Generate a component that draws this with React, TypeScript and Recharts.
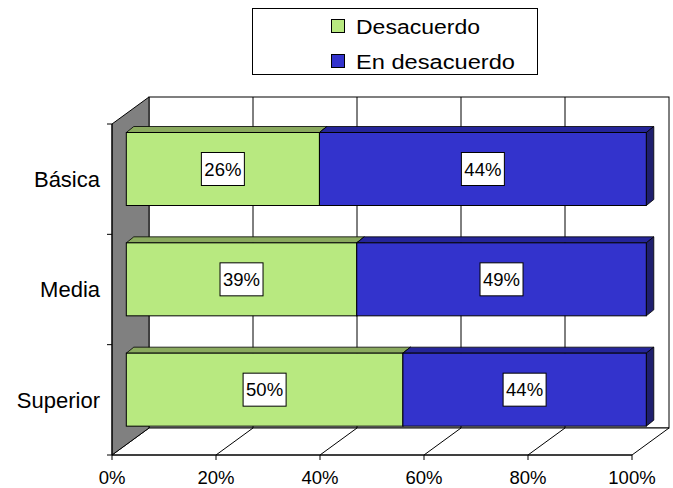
import React from "react";
import { Bar, BarChart, LabelList, ReferenceArea, XAxis, YAxis } from "recharts";

const CATEGORIES = ["Básica", "Media", "Superior"];
const DESACUERDO = [26, 39, 50];
const EN_DESACUERDO = [44, 49, 44];
const X_TICKS = [0, 0.2, 0.4, 0.6, 0.8, 1];

const SERIES = [
  { key: "desacuerdo", name: "Desacuerdo", front: "#B8E980", top: "#8AAA5E", side: "#7E9E54" },
  { key: "enDesacuerdo", name: "En desacuerdo", front: "#3333CC", top: "#25259A", side: "#1F1F6E" },
];

const data = CATEGORIES.map((category, i) => ({
  category,
  desacuerdo: DESACUERDO[i],
  enDesacuerdo: EN_DESACUERDO[i],
}));

// 3d look: full depth of the box, where the bar front face sits, and bar thickness
const DX = 37;
const DY = -27;
const FX = 14.3;
const FY = -10.5;
const BX = 7.5;
const BY = -6;

const font = "'Liberation Sans', Arial, sans-serif";

function Frame(props: any) {
  const { x, y, width, height } = props;
  const bottom = y + height;
  return (
    <g>
      <rect x={x + DX} y={y + DY} width={width} height={height} fill="#fff" stroke="#000" />
      {X_TICKS.slice(1, -1).map((t) => (
        <line key={"b" + t} x1={x + DX + width * t} x2={x + DX + width * t} y1={y + DY} y2={bottom + DY} stroke="#000" />
      ))}
      <polygon
        points={`${x},${bottom} ${x + DX},${bottom + DY} ${x + width + DX},${bottom + DY} ${x + width},${bottom}`}
        fill="#fff"
        stroke="#000"
      />
      {X_TICKS.slice(1, -1).map((t) => (
        <line key={"f" + t} x1={x + width * t} x2={x + width * t + DX} y1={bottom} y2={bottom + DY} stroke="#000" />
      ))}
      <polygon
        points={`${x},${y} ${x + DX},${y + DY} ${x + DX},${bottom + DY} ${x},${bottom}`}
        fill="#808080"
        stroke="#000"
      />
      {CATEGORIES.map((_, i) => (
        <line key={"t" + i} x1={x - 5} x2={x} y1={y + (height * i) / CATEGORIES.length} y2={y + (height * i) / CATEGORIES.length} stroke="#000" />
      ))}
      <line x1={x - 5} x2={x} y1={bottom} y2={bottom} stroke="#000" />
    </g>
  );
}

function makeShape(s: (typeof SERIES)[number]) {
  return (props: any) => {
    const { x, y, width, height } = props;
    const fx = x + FX;
    const fy = y + FY;
    return (
      <g>
        <polygon
          points={`${fx},${fy} ${fx + BX},${fy + BY} ${fx + width + BX},${fy + BY} ${fx + width},${fy}`}
          fill={s.top}
          stroke="#000"
          strokeWidth={0.8}
        />
        <polygon
          points={`${fx + width},${fy} ${fx + width + BX},${fy + BY} ${fx + width + BX},${fy + height + BY} ${fx + width},${fy + height}`}
          fill={s.side}
          stroke="#000"
          strokeWidth={0.8}
        />
        <rect x={fx} y={fy} width={width} height={height} fill={s.front} stroke="#000" />
      </g>
    );
  };
}

function ValueLabel(props: any) {
  const vb = props.viewBox && props.viewBox.width != null ? props.viewBox : props;
  const cx = vb.x + vb.width / 2 + FX;
  const cy = vb.y + vb.height / 2 + FY;
  return (
    <g>
      <rect x={cx - 21.5} y={cy - 16.5} width={43} height={33} fill="#fff" stroke="#000" />
      <text x={cx} y={cy} dy="0.36em" textAnchor="middle" fontSize={18.5} fontFamily={font} fill="#000">
        {`${props.value}%`}
      </text>
    </g>
  );
}

function LegendBox() {
  return (
    <svg width={673} height={488} style={{ position: "absolute", left: 0, top: 0, pointerEvents: "none" }}>
      <rect x={252.5} y={8.5} width={285} height={66} fill="#fff" stroke="#000" />
      {SERIES.map((s, i) => (
        <g key={s.key}>
          <rect x={331.5} y={19.5 + i * 35} width={13} height={13} fill={s.front} stroke="#000" />
          <text
            x={356}
            y={34 + i * 35}
            fontSize={20}
            fontFamily={font}
            fill="#000"
            textLength={i === 0 ? 124 : 159}
            lengthAdjust="spacingAndGlyphs"
          >
            {s.name}
          </text>
        </g>
      ))}
    </svg>
  );
}

export default function App() {
  return (
    <div style={{ position: "absolute", left: 0, top: 0, width: 673, height: 488, background: "#fff", fontFamily: font }}>
      <BarChart
        width={673}
        height={488}
        data={data}
        layout="vertical"
        stackOffset="expand"
        barSize={73}
        margin={{ top: 124, right: 41, bottom: 0, left: 12 }}
      >
        <ReferenceArea x1={0} x2={1} ifOverflow="visible" shape={<Frame />} />
        <XAxis
          type="number"
          domain={[0, 1]}
          ticks={X_TICKS}
          interval={0}
          height={33}
          tickSize={5}
          tickMargin={11}
          stroke="#000"
          tick={{ fill: "#000", fontSize: 18.5, fontFamily: font }}
          tickFormatter={(v: number) => `${Math.round(v * 100)}%`}
        />
        <YAxis
          type="category"
          dataKey="category"
          width={100}
          tickLine={false}
          tickSize={0}
          tickMargin={12}
          stroke="#000"
          tick={{ fill: "#000", fontSize: 22, fontFamily: font }}
        />
        {SERIES.map((s) => (
          <Bar key={s.key} dataKey={s.key} name={s.name} stackId="a" fill={s.front} shape={makeShape(s)} isAnimationActive={false}>
            <LabelList dataKey={s.key} content={<ValueLabel />} />
          </Bar>
        ))}
      </BarChart>
      <LegendBox />
    </div>
  );
}
